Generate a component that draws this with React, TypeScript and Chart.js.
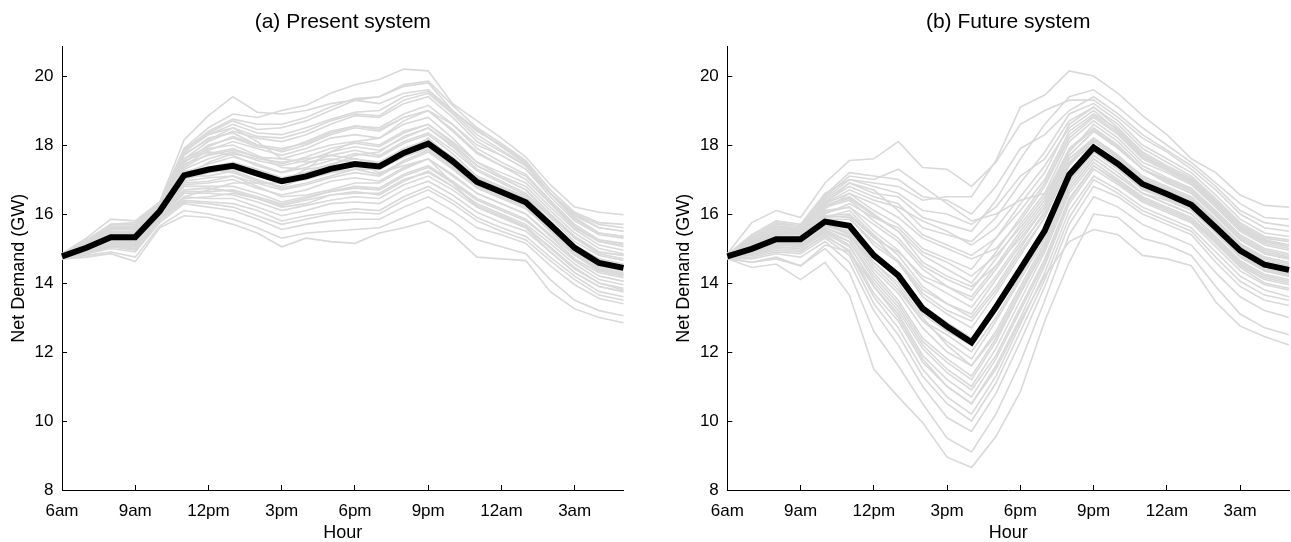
import React, { useEffect, useRef } from 'react';
import { Chart, registerables } from 'chart.js';

Chart.register(...registerables);

// ---------- data ----------
const HOURS = ['6am', '7am', '8am', '9am', '10am', '11am', '12pm', '1pm', '2pm', '3pm', '4pm', '5pm',
  '6pm', '7pm', '8pm', '9pm', '10pm', '11pm', '12am', '1am', '2am', '3am', '4am', '5am'];
const X_TICK_LABELS = ['6am', '9am', '12pm', '3pm', '6pm', '9pm', '12am', '3am'];
const Y_TICKS = [8, 10, 12, 14, 16, 18, 20];
const Y_MIN = 8;
const Y_MAX = 20.85;

const TITLE_A = '(a) Present system';
const TITLE_B = '(b) Future system';
const X_TITLE = 'Hour';
const Y_TITLE = 'Net Demand (GW)';

const PRESENT_MEAN = [14.77, 15.02, 15.33, 15.33, 16.08, 17.12, 17.29, 17.40, 17.17, 16.95, 17.09, 17.31,
  17.45, 17.38, 17.77, 18.04, 17.53, 16.93, 16.64, 16.34, 15.69, 15.02, 14.58, 14.44];

const PRESENT_SCENARIOS = [
  [14.85, 15.3, 15.85, 15.8, 16.35, 18.15, 18.85, 19.4, 18.95, 18.9, 19.0, 19.2, 19.3, 19.2, 19.5, 19.6, 19.0, 18.4, 18.0, 17.5, 16.6, 16.0, 15.7, 15.6],
  [14.8, 15.2, 15.6, 15.6, 16.3, 17.9, 18.5, 18.9, 18.8, 19.0, 19.15, 19.5, 19.75, 19.9, 20.2, 20.15, 19.2, 18.7, 18.2, 17.65, 16.85, 16.2, 16.05, 15.98],
  [14.82, 15.25, 15.7, 15.7, 16.25, 17.8, 18.35, 18.7, 18.45, 18.5, 18.7, 19.0, 19.3, 19.4, 19.7, 19.8, 19.0, 18.45, 17.95, 17.45, 16.6, 15.95, 15.6, 15.5],
  [14.8, 15.15, 15.6, 15.6, 16.25, 17.6, 18.1, 18.4, 18.2, 18.1, 18.3, 18.6, 18.85, 18.8, 19.2, 19.4, 18.8, 18.1, 17.7, 17.3, 16.5, 15.8, 15.4, 15.3],
  [14.78, 15.1, 15.5, 15.45, 16.2, 17.7, 18.2, 18.35, 18.0, 17.8, 18.0, 18.3, 18.5, 18.4, 18.8, 19.0, 18.4, 17.75, 17.4, 17.0, 16.3, 15.6, 15.2, 15.1],
  [14.76, 15.05, 15.45, 15.5, 16.15, 17.4, 17.85, 18.1, 17.9, 17.7, 17.9, 18.2, 18.3, 18.2, 18.6, 18.8, 18.2, 17.5, 17.2, 16.9, 16.2, 15.55, 15.1, 14.95],
  [14.78, 15.05, 15.4, 15.35, 16.1, 17.3, 17.6, 17.8, 17.55, 17.4, 17.55, 17.8, 17.95, 17.85, 18.2, 18.5, 17.95, 17.3, 16.95, 16.6, 15.95, 15.3, 14.85, 14.7],
  [14.75, 15.0, 15.3, 15.3, 16.05, 17.2, 17.45, 17.65, 17.45, 17.2, 17.35, 17.55, 17.75, 17.65, 18.05, 18.3, 17.75, 17.1, 16.8, 16.5, 15.8, 15.1, 14.7, 14.55],
  [14.77, 14.98, 15.25, 15.2, 16.0, 16.95, 17.05, 17.1, 16.9, 16.7, 16.85, 17.05, 17.2, 17.1, 17.5, 17.8, 17.3, 16.75, 16.45, 16.15, 15.55, 14.9, 14.45, 14.3],
  [14.76, 14.95, 15.2, 15.15, 15.95, 16.8, 16.8, 16.8, 16.6, 16.35, 16.5, 16.65, 16.75, 16.7, 17.1, 17.35, 16.9, 16.4, 16.1, 15.8, 15.25, 14.65, 14.2, 14.05],
  [14.74, 14.9, 15.1, 15.05, 15.9, 16.6, 16.6, 16.55, 16.35, 16.1, 16.25, 16.4, 16.5, 16.45, 16.85, 17.1, 16.7, 16.2, 15.9, 15.6, 15.05, 14.45, 14.0, 13.85],
  [14.73, 14.88, 15.05, 14.95, 15.8, 16.4, 16.35, 16.3, 16.1, 15.8, 15.95, 16.05, 16.15, 16.1, 16.5, 16.8, 16.4, 15.9, 15.6, 15.35, 14.75, 14.2, 13.75, 13.6],
  [14.72, 14.85, 15.0, 14.9, 15.75, 16.3, 16.2, 16.1, 15.85, 15.55, 15.7, 15.8, 15.85, 15.85, 16.2, 16.5, 16.1, 15.6, 15.4, 15.15, 14.5, 13.95, 13.55, 13.4],
  [14.7, 14.75, 14.85, 14.62, 15.6, 15.95, 15.9, 15.7, 15.45, 15.05, 15.3, 15.2, 15.15, 15.45, 15.6, 15.8, 15.4, 14.75, 14.7, 14.65, 13.75, 13.25, 13.0, 12.85],
  [14.7, 14.8, 14.9, 14.75, 15.65, 16.1, 16.0, 15.85, 15.6, 15.3, 15.45, 15.5, 15.55, 15.6, 15.9, 16.2, 15.8, 15.25, 15.05, 14.85, 14.1, 13.5, 13.2, 13.05],
  [14.8, 15.2, 15.7, 15.75, 16.3, 17.9, 18.3, 18.5, 18.1, 17.6, 17.5, 17.6, 17.5, 17.2, 17.4, 17.6, 16.9, 16.2, 15.9, 15.6, 14.9, 14.3, 13.9, 13.75],
  [14.74, 14.9, 15.1, 15.0, 15.85, 16.5, 16.7, 16.9, 16.9, 16.9, 17.3, 17.8, 18.1, 18.2, 18.7, 19.0, 18.6, 18.0, 17.7, 17.3, 16.6, 16.0, 15.6, 15.5],
  [14.76, 15.0, 15.35, 15.3, 16.1, 17.5, 17.9, 18.0, 17.7, 17.35, 17.3, 17.4, 17.4, 17.4, 17.8, 18.2, 17.6, 17.0, 16.6, 16.35, 15.6, 14.95, 14.55, 14.4],
  [14.77, 15.08, 15.45, 15.4, 16.15, 17.35, 17.75, 17.9, 17.65, 17.6, 17.8, 18.0, 18.1, 18.0, 18.4, 18.6, 18.1, 17.5, 17.1, 16.8, 16.1, 15.45, 15.0, 14.85],
  [14.75, 14.95, 15.2, 15.15, 16.0, 16.9, 16.95, 17.1, 16.8, 16.5, 16.55, 16.7, 16.9, 16.9, 17.3, 17.6, 17.1, 16.6, 16.3, 16.0, 15.4, 14.8, 14.35, 14.2],
  [14.78, 15.1, 15.5, 15.5, 16.2, 17.55, 17.8, 17.7, 17.4, 17.2, 17.45, 17.7, 17.85, 17.7, 18.1, 18.35, 17.85, 17.25, 16.9, 16.55, 15.9, 15.2, 14.8, 14.65],
  [14.76, 14.97, 15.28, 15.3, 16.05, 17.0, 17.2, 17.3, 17.1, 16.9, 17.0, 17.2, 17.3, 17.3, 17.65, 17.9, 17.4, 16.85, 16.55, 16.25, 15.6, 14.95, 14.5, 14.35],
  [14.79, 15.12, 15.55, 15.55, 16.2, 17.6, 17.95, 18.25, 18.0, 17.9, 18.05, 18.35, 18.55, 18.5, 18.9, 19.15, 18.6, 17.9, 17.5, 17.15, 16.4, 15.7, 15.25, 15.15],
  [14.75, 14.93, 15.15, 15.1, 15.95, 16.7, 16.75, 16.65, 16.45, 16.25, 16.4, 16.55, 16.65, 16.55, 16.95, 17.25, 16.8, 16.3, 16.0, 15.7, 15.15, 14.55, 14.1, 13.95],
  [14.77, 15.0, 15.35, 15.35, 16.1, 17.15, 17.35, 17.5, 17.3, 17.05, 17.2, 17.45, 17.6, 17.5, 17.9, 18.15, 17.65, 17.05, 16.75, 16.45, 15.75, 15.1, 14.65, 14.5],
  [14.8, 15.15, 15.65, 15.65, 16.25, 17.8, 18.3, 18.6, 18.35, 18.3, 18.5, 18.75, 18.95, 19.0, 19.4, 19.55, 18.95, 18.3, 17.85, 17.4, 16.6, 15.85, 15.45, 15.35],
  [14.74, 14.9, 15.1, 15.1, 15.9, 16.5, 16.45, 16.45, 16.2, 15.95, 16.1, 16.3, 16.35, 16.3, 16.7, 16.95, 16.55, 16.05, 15.75, 15.5, 14.9, 14.3, 13.9, 13.75],
  [14.76, 15.02, 15.3, 15.25, 16.05, 17.05, 17.5, 17.75, 17.6, 17.5, 17.6, 17.7, 17.6, 17.45, 17.75, 17.95, 17.4, 16.8, 16.5, 16.2, 15.5, 14.85, 14.4, 14.25],
  [14.78, 15.08, 15.4, 15.45, 16.15, 17.25, 17.3, 17.2, 16.95, 16.8, 17.05, 17.4, 17.7, 17.8, 18.25, 18.5, 18.0, 17.4, 17.05, 16.7, 16.0, 15.35, 14.9, 14.8],
  [14.75, 14.95, 15.25, 15.2, 16.0, 16.85, 16.9, 17.0, 16.75, 16.55, 16.7, 16.95, 17.05, 16.95, 17.35, 17.6, 17.15, 16.6, 16.3, 16.0, 15.35, 14.7, 14.3, 14.15],
  [14.81, 15.18, 15.6, 15.55, 16.3, 17.5, 18.0, 18.2, 17.95, 17.85, 18.1, 18.4, 18.55, 18.45, 18.8, 19.0, 18.45, 17.8, 17.4, 17.1, 16.35, 15.65, 15.2, 15.05],
  [14.73, 14.88, 15.08, 15.0, 15.85, 16.45, 16.5, 16.6, 16.45, 16.2, 16.3, 16.55, 16.6, 16.6, 17.0, 17.2, 16.8, 16.25, 15.95, 15.65, 15.0, 14.4, 14.0, 13.8],
  [14.79, 15.15, 15.58, 15.6, 16.28, 17.75, 18.15, 18.5, 18.25, 18.2, 18.4, 18.7, 18.9, 18.85, 19.3, 19.5, 18.9, 18.2, 17.8, 17.4, 16.6, 15.9, 15.45, 15.35],
  [14.78, 15.06, 15.42, 15.4, 16.12, 17.45, 17.7, 17.85, 17.65, 17.45, 17.65, 17.9, 18.05, 17.95, 18.35, 18.6, 18.05, 17.4, 17.05, 16.7, 16.0, 15.35, 14.9, 14.8],
  [14.74, 14.92, 15.15, 15.1, 15.92, 16.65, 16.65, 16.7, 16.5, 16.3, 16.45, 16.65, 16.8, 16.75, 17.15, 17.4, 16.95, 16.45, 16.15, 15.85, 15.25, 14.65, 14.2, 14.05],
  [14.73, 14.87, 15.05, 14.98, 15.82, 16.35, 16.3, 16.2, 15.95, 15.7, 15.85, 16.0, 16.05, 16.0, 16.4, 16.7, 16.3, 15.8, 15.5, 15.25, 14.65, 14.1, 13.65, 13.5],
  [14.8, 15.18, 15.62, 15.62, 16.3, 17.85, 18.4, 18.75, 18.6, 18.6, 18.8, 19.1, 19.35, 19.4, 19.75, 19.85, 19.15, 18.5, 18.05, 17.55, 16.7, 16.05, 15.75, 15.7],
  [14.76, 15.0, 15.3, 15.25, 16.05, 17.1, 17.1, 17.25, 17.0, 16.75, 16.9, 17.1, 17.3, 17.15, 17.55, 17.85, 17.35, 16.8, 16.5, 16.2, 15.5, 14.85, 14.4, 14.25],
];

const FUTURE_MEAN = [14.77, 14.99, 15.27, 15.27, 15.78, 15.66, 14.80, 14.22, 13.26, 12.74, 12.28, 13.30,
  14.40, 15.52, 17.14, 17.93, 17.45, 16.87, 16.58, 16.27, 15.61, 14.94, 14.53, 14.38];

const FUTURE_SCENARIOS = [
  [14.85, 15.75, 16.1, 15.9, 16.9, 17.55, 17.6, 18.1, 17.35, 17.3, 16.8, 17.5, 18.6, 19.0, 19.3, 19.3, 18.8, 18.2, 17.8, 17.3, 16.7, 16.0, 15.6, 15.5],
  [14.82, 15.4, 15.8, 15.7, 16.6, 17.0, 16.9, 16.8, 16.4, 16.5, 16.5, 17.55, 19.1, 19.45, 20.15, 20.0, 19.5, 18.85, 18.3, 17.6, 17.2, 16.55, 16.25, 16.2],
  [14.8, 15.3, 15.65, 15.6, 16.4, 16.9, 16.6, 16.5, 15.9, 15.7, 15.5, 16.4, 17.6, 18.6, 19.4, 19.6, 19.1, 18.5, 18.0, 17.5, 16.9, 16.3, 15.9, 15.85],
  [14.8, 15.2, 15.55, 15.55, 16.3, 16.6, 16.1, 15.7, 15.0, 14.7, 14.4, 15.3, 16.3, 17.2, 18.6, 19.1, 18.5, 17.8, 17.4, 17.05, 16.4, 15.7, 15.3, 15.2],
  [14.78, 15.15, 15.45, 15.5, 16.2, 16.4, 15.8, 15.3, 14.5, 14.1, 13.8, 14.7, 15.7, 16.6, 18.1, 18.7, 18.2, 17.5, 17.2, 16.85, 16.2, 15.5, 15.1, 14.95],
  [14.79, 15.1, 15.4, 15.45, 16.1, 16.2, 15.5, 14.95, 14.1, 13.7, 13.3, 14.2, 15.2, 16.2, 17.7, 18.4, 17.9, 17.3, 17.0, 16.65, 16.0, 15.3, 14.9, 14.75],
  [14.78, 15.05, 15.35, 15.35, 15.95, 15.9, 15.1, 14.6, 13.6, 13.1, 12.7, 13.7, 14.8, 15.9, 17.4, 18.15, 17.65, 17.05, 16.75, 16.45, 15.8, 15.1, 14.7, 14.55],
  [14.76, 14.98, 15.25, 15.25, 15.8, 15.7, 14.9, 14.3, 13.35, 12.85, 12.4, 13.4, 14.5, 15.6, 17.2, 18.0, 17.5, 16.9, 16.6, 16.3, 15.65, 14.95, 14.55, 14.4],
  [14.77, 14.95, 15.2, 15.2, 15.7, 15.5, 14.6, 13.9, 12.9, 12.3, 11.8, 12.9, 14.1, 15.3, 16.95, 17.8, 17.3, 16.75, 16.45, 16.15, 15.5, 14.8, 14.4, 14.25],
  [14.75, 14.9, 15.15, 15.1, 15.6, 15.3, 14.3, 13.5, 12.4, 11.8, 11.3, 12.4, 13.7, 15.0, 16.7, 17.6, 17.1, 16.6, 16.3, 16.0, 15.35, 14.65, 14.25, 14.1],
  [14.74, 14.85, 15.05, 15.0, 15.5, 15.1, 13.9, 13.1, 11.9, 11.2, 10.7, 11.8, 13.2, 14.6, 16.4, 17.4, 16.9, 16.4, 16.1, 15.8, 15.15, 14.45, 14.0, 13.85],
  [14.73, 14.8, 14.95, 14.9, 15.4, 14.9, 13.6, 12.7, 11.5, 10.7, 10.2, 11.3, 12.8, 14.3, 16.1, 17.1, 16.7, 16.2, 15.9, 15.6, 14.9, 14.2, 13.8, 13.6],
  [14.72, 14.7, 14.85, 14.75, 15.2, 14.6, 13.2, 12.2, 11.0, 10.1, 9.7, 10.8, 12.3, 13.9, 15.7, 16.8, 16.5, 16.0, 15.7, 15.4, 14.6, 13.9, 13.5, 13.35],
  [14.7, 14.6, 14.7, 14.5, 15.0, 14.3, 12.6, 11.6, 10.5, 9.5, 9.1, 10.2, 11.7, 13.5, 15.4, 16.5, 16.2, 15.7, 15.4, 15.1, 14.3, 13.6, 13.2, 13.0],
  [14.7, 14.45, 14.55, 14.1, 14.6, 13.65, 11.5, 10.7, 9.95, 8.95, 8.65, 9.55, 10.85, 12.9, 14.6, 16.0, 15.9, 15.3, 15.1, 14.8, 13.9, 13.1, 12.7, 12.5],
  [14.72, 14.6, 14.75, 14.5, 15.1, 14.9, 13.9, 13.0, 11.8, 11.0, 10.5, 11.5, 12.9, 14.2, 15.2, 15.55, 15.4, 14.8, 14.7, 14.5, 13.45, 12.75, 12.45, 12.2],
  [14.8, 15.3, 15.7, 15.65, 16.5, 17.1, 17.0, 17.3, 16.8, 16.3, 15.8, 16.0, 16.4, 16.6, 17.5, 18.0, 17.4, 16.8, 16.5, 16.2, 15.5, 14.8, 14.4, 14.3],
  [14.76, 15.0, 15.3, 15.3, 15.9, 16.1, 15.4, 14.8, 13.9, 13.4, 13.0, 13.9, 15.0, 16.1, 17.6, 18.2, 17.7, 17.0, 16.7, 16.4, 15.75, 15.05, 14.6, 14.45],
  [14.75, 14.95, 15.2, 15.15, 15.7, 15.4, 14.4, 13.7, 12.7, 12.0, 11.6, 12.6, 13.9, 15.2, 16.8, 17.7, 17.2, 16.6, 16.4, 16.1, 15.45, 14.75, 14.35, 14.2],
  [14.74, 14.9, 15.1, 15.05, 15.55, 15.2, 14.1, 13.3, 12.2, 11.5, 11.0, 12.1, 13.5, 14.9, 16.6, 17.5, 17.0, 16.5, 16.2, 15.9, 15.25, 14.55, 14.15, 14.0],
  [14.78, 15.1, 15.4, 15.4, 16.0, 16.3, 15.9, 15.6, 14.9, 14.6, 14.2, 14.8, 15.6, 16.5, 17.9, 18.5, 18.0, 17.3, 17.0, 16.7, 16.05, 15.35, 14.95, 14.8],
  [14.77, 15.0, 15.3, 15.3, 15.85, 15.85, 15.2, 14.65, 13.8, 13.4, 13.1, 14.1, 15.1, 16.0, 17.5, 18.2, 17.7, 17.1, 16.8, 16.5, 15.85, 15.15, 14.75, 14.6],
  [14.75, 14.92, 15.18, 15.2, 15.65, 15.45, 14.5, 13.8, 12.9, 12.5, 12.0, 13.0, 14.2, 15.4, 17.05, 17.85, 17.35, 16.8, 16.5, 16.2, 15.55, 14.9, 14.5, 14.35],
  [14.74, 14.88, 15.1, 15.1, 15.5, 15.2, 14.2, 13.4, 12.3, 11.7, 11.2, 12.3, 13.7, 15.0, 16.7, 17.6, 17.1, 16.6, 16.3, 16.0, 15.3, 14.6, 14.2, 14.05],
  [14.73, 14.82, 15.0, 14.95, 15.35, 14.95, 13.7, 12.9, 11.7, 11.0, 10.5, 11.6, 13.0, 14.5, 16.3, 17.3, 16.85, 16.35, 16.05, 15.75, 15.05, 14.35, 13.95, 13.8],
  [14.8, 15.25, 15.6, 15.55, 16.35, 16.8, 16.5, 16.3, 15.6, 15.4, 15.2, 15.9, 16.9, 17.8, 18.9, 19.2, 18.7, 18.0, 17.6, 17.2, 16.55, 15.85, 15.45, 15.35],
  [14.76, 14.96, 15.22, 15.25, 15.75, 15.6, 14.75, 14.1, 13.1, 12.6, 12.2, 13.2, 14.4, 15.6, 17.2, 17.95, 17.45, 16.9, 16.6, 16.3, 15.6, 14.95, 14.5, 14.35],
  [14.79, 15.15, 15.5, 15.45, 16.25, 16.5, 16.0, 15.5, 14.6, 14.2, 13.9, 14.5, 15.3, 16.2, 17.7, 18.4, 17.9, 17.3, 16.95, 16.6, 15.95, 15.25, 14.85, 14.7],
  [14.72, 14.75, 14.9, 14.85, 15.3, 14.8, 13.4, 12.5, 11.3, 10.5, 10.0, 11.1, 12.6, 14.1, 15.9, 17.0, 16.6, 16.1, 15.8, 15.5, 14.75, 14.05, 13.65, 13.5],
  [14.76, 15.05, 15.35, 15.3, 15.9, 15.95, 15.3, 14.9, 14.2, 13.9, 13.5, 14.4, 15.4, 16.3, 17.8, 18.6, 18.1, 17.4, 17.05, 16.75, 16.1, 15.4, 15.0, 14.85],
  [14.75, 14.94, 15.15, 15.12, 15.6, 15.35, 14.6, 14.0, 13.0, 12.2, 11.6, 12.5, 13.8, 15.1, 16.9, 17.8, 17.3, 16.7, 16.45, 16.15, 15.45, 14.75, 14.35, 14.2],
  [14.81, 15.35, 15.75, 15.65, 16.55, 17.2, 17.1, 17.0, 16.5, 16.4, 16.0, 16.8, 17.9, 18.3, 19.0, 19.4, 18.9, 18.3, 17.85, 17.4, 16.8, 16.1, 15.75, 15.65],
  [14.8, 15.2, 15.5, 15.5, 16.3, 16.7, 16.4, 16.2, 15.8, 15.5, 15.1, 15.6, 16.5, 17.4, 18.5, 19.0, 18.4, 17.7, 17.3, 16.95, 16.3, 15.6, 15.2, 15.1],
  [14.79, 15.12, 15.45, 15.4, 16.15, 16.6, 16.3, 15.9, 15.3, 15.0, 14.7, 15.0, 15.8, 16.8, 18.2, 18.8, 18.3, 17.6, 17.25, 16.9, 16.25, 15.55, 15.15, 15.0],
  [14.81, 15.28, 15.62, 15.55, 16.45, 17.0, 16.8, 16.6, 16.1, 16.0, 15.7, 16.2, 17.1, 17.6, 18.7, 19.1, 18.6, 17.9, 17.5, 17.1, 16.45, 15.75, 15.35, 15.25],
  [14.77, 15.05, 15.35, 15.35, 16.05, 16.2, 15.7, 15.2, 14.4, 13.9, 13.6, 14.5, 15.5, 16.4, 17.85, 18.45, 17.95, 17.3, 16.9, 16.6, 15.95, 15.25, 14.85, 14.7],
  [14.78, 15.18, 15.5, 15.5, 16.25, 16.45, 15.95, 15.5, 14.8, 14.4, 14.0, 14.9, 15.9, 16.9, 18.3, 18.85, 18.35, 17.65, 17.3, 16.95, 16.3, 15.6, 15.2, 15.05],
  [14.76, 15.0, 15.3, 15.28, 15.95, 16.0, 15.35, 14.6, 13.7, 13.2, 12.9, 13.8, 14.9, 15.9, 17.45, 18.1, 17.6, 17.0, 16.7, 16.4, 15.75, 15.05, 14.65, 14.5],
  [14.74, 14.86, 15.05, 15.0, 15.45, 15.05, 14.0, 13.2, 12.1, 11.4, 10.9, 11.9, 13.3, 14.7, 16.45, 17.4, 16.95, 16.45, 16.15, 15.85, 15.2, 14.5, 14.1, 13.95],
  [14.79, 15.22, 15.55, 15.5, 16.3, 16.9, 16.7, 16.1, 15.4, 15.1, 14.8, 15.3, 16.1, 17.0, 18.4, 18.9, 18.45, 17.75, 17.35, 17.0, 16.35, 15.65, 15.25, 15.1],
];

// ---------- styling ----------
const FONT = "'Liberation Sans', Arial, Helvetica, sans-serif";
const GREY = 'rgb(217,217,217)';
const BLACK = '#000000';

type PanelProps = {
  title: string;
  mean: number[];
  scenarios: number[][];
  left: number;
  width: number;
  axisWidth: number;
  padRight: number;
  yTitlePad: number;
};

function Panel({ title, mean, scenarios, left, width, axisWidth, padRight, yTitlePad }: PanelProps) {
  const ref = useRef<HTMLCanvasElement | null>(null);

  useEffect(() => {
    if (!ref.current) return;
    const axisGrid = {
      display: true,
      drawOnChartArea: false,
      drawTicks: true,
      tickLength: -5,
      tickWidth: 1,
      tickColor: BLACK,
      color: BLACK,
    };
    const chart = new Chart(ref.current, {
      type: 'line',
      data: {
        labels: HOURS,
        datasets: [
          {
            data: mean,
            borderColor: BLACK,
            borderWidth: 6,
            pointRadius: 0,
            tension: 0,
            borderJoinStyle: 'miter',
            borderCapStyle: 'butt',
          },
          ...scenarios.map((s) => ({
            data: s,
            borderColor: GREY,
            borderWidth: 1.6,
            pointRadius: 0,
            tension: 0,
          })),
        ],
      },
      options: {
        responsive: false,
        animation: false,
        events: [],
        layout: { padding: { left: 0, right: padRight, top: 0, bottom: 0 } },
        plugins: {
          legend: { display: false },
          tooltip: { enabled: false },
          title: {
            display: true,
            text: title,
            color: BLACK,
            fullSize: false,
            font: { family: FONT, size: 21, weight: 'normal', lineHeight: 1 },
            padding: { top: 12, bottom: 13.7 },
          },
        },
        scales: {
          x: {
            type: 'category',
            offset: false,
            afterBuildTicks: (s: any) => {
              s.ticks = X_TICK_LABELS.map((l) => ({ value: HOURS.indexOf(l) }));
            },
            afterFit: (s: any) => {
              s.height = 52;
            },
            grid: axisGrid,
            border: { display: true, color: BLACK, width: 1 },
            ticks: {
              autoSkip: false,
              maxRotation: 0,
              minRotation: 0,
              padding: 15.8,
              color: BLACK,
              font: { family: FONT, size: 17 },
              callback: (v: any) => HOURS[v as number],
            },
            title: {
              display: true,
              text: X_TITLE,
              color: BLACK,
              font: { family: FONT, size: 18, lineHeight: 1 },
              padding: { top: 0, bottom: 0 },
            },
          },
          y: {
            type: 'linear',
            min: Y_MIN,
            max: Y_MAX,
            afterBuildTicks: (s: any) => {
              s.ticks = Y_TICKS.map((v) => ({ value: v }));
            },
            afterFit: (s: any) => {
              s.width = axisWidth;
            },
            grid: axisGrid,
            border: { display: true, color: BLACK, width: 1 },
            ticks: {
              padding: 13.5,
              color: BLACK,
              font: { family: FONT, size: 17 },
              callback: (v: any) => String(v),
            },
            title: {
              display: true,
              text: Y_TITLE,
              color: BLACK,
              font: { family: FONT, size: 18, lineHeight: 1 },
              padding: { top: yTitlePad, bottom: 0 },
            },
          },
        },
      },
    } as any);
    return () => chart.destroy();
  }, [title, mean, scenarios, axisWidth, padRight, yTitlePad]);

  return (
    <canvas
      ref={ref}
      width={width}
      height={542}
      style={{ position: 'absolute', left, top: 0, width, height: 542 }}
    />
  );
}

export default function App() {
  return (
    <div style={{ position: 'fixed', left: 0, top: 0, width: 1291, height: 542, background: '#fff' }}>
      <Panel title={TITLE_A} mean={PRESENT_MEAN} scenarios={PRESENT_SCENARIOS}
        left={0} width={645} axisWidth={62} padRight={21.5} yTitlePad={9.7} />
      <Panel title={TITLE_B} mean={FUTURE_MEAN} scenarios={FUTURE_SCENARIOS}
        left={645} width={646} axisWidth={82.3} padRight={2} yTitlePad={30} />
    </div>
  );
}
